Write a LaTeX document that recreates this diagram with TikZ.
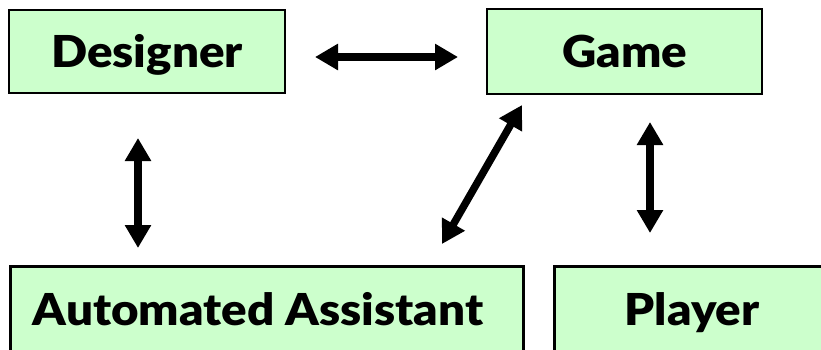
\documentclass[tikz,border=0pt]{standalone}
\usepackage{fontspec}
\setmainfont{Lato}[BoldFont={Lato Black}]
\usetikzlibrary{arrows.meta}
\definecolor{boxgreen}{HTML}{CCFFCC}
\newcommand{\wide}[1]{\scalebox{1.08}[1]{#1}}
\begin{document}
\begin{tikzpicture}[x=1pt,y=-1pt,
  agent/.style={draw=black,line width=2.6pt,fill=boxgreen,inner sep=0pt},
  label/.style={font=\fontsize{44}{48}\selectfont\bfseries,inner sep=0pt,anchor=base},
  link/.style={line width=7.5pt,
    {Triangle[length=23pt,width=25pt]}-{Triangle[length=23pt,width=25pt]}}]
  \useasboundingbox (0,0) rectangle (821,349);
  \clip (0,0) rectangle (821,349);
  % the four parties
  \node[agent,minimum width=276pt,minimum height=83pt] (designer) at (147,51.5) {};
  \node[agent,minimum width=275pt,minimum height=85pt] (game) at (624.5,51.5) {};
  \node[agent,minimum width=513pt,minimum height=85pt,anchor=north west] (assistant) at (9,265) {};
  \node[agent,minimum width=290pt,minimum height=85pt,anchor=north west] (player) at (553,265) {};
  \node[label] (designerlabel) at (147,67) {\wide{Designer}};
  \node[label] (gamelabel) at (625,67) {\wide{Game}};
  \node[label] (assistantlabel) at (258,325) {\wide{Automated Assistant}};
  \node[label] (playerlabel) at (692,325) {\wide{Player}};
  % connector end points
  \coordinate (dg1) at (315,57);
  \coordinate (dg2) at (458,57);
  \coordinate (da1) at (138,138);
  \coordinate (da2) at (138,248);
  \coordinate (ga1) at (522,105);
  \coordinate (ga2) at (442,244);
  \coordinate (gp1) at (650,122);
  \coordinate (gp2) at (650,233);
  % two-way links
  \draw[link] (dg1) -- (dg2);
  \draw[link] (da1) -- (da2);
  \draw[link] (ga1) -- (ga2);
  \draw[link] (gp1) -- (gp2);
\end{tikzpicture}
\end{document}
